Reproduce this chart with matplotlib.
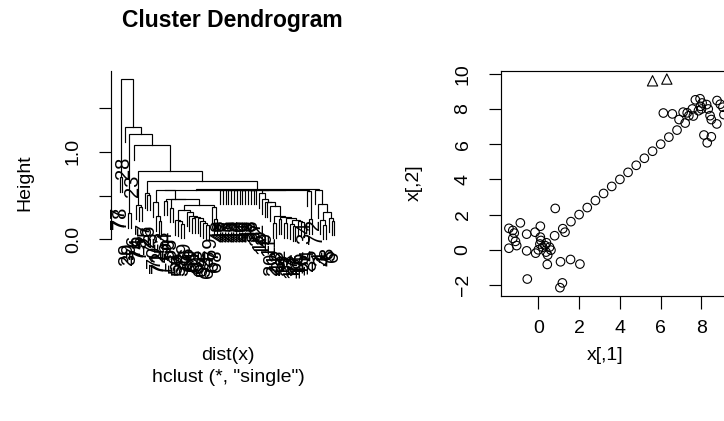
import numpy as np
import matplotlib
matplotlib.use("Agg")
import matplotlib.pyplot as plt
from matplotlib.transforms import offset_copy

plt.rcParams['font.family'] = ['Liberation Sans', 'DejaVu Sans']

# ---------------- data ----------------
low_x = [-1.44, -0.88, -1.25, -1.18, -1.25, -1.12, -1.44, -1.06, -0.57, -0.57,
         -0.16, 0.10, -0.13, 0.10, 0.13, 0.08, 0.21, 0.33, 0.55, 0.38,
         0.46, 0.44, 0.83, 1.31, 1.09, 1.58, 2.04, -0.54, 1.18, 1.06, 0.62]
low_y = [1.22, 1.53, 1.10, 0.95, 0.65, 0.48, 0.09, 0.24, 0.89, -0.06,
         1.00, 1.34, -0.19, 0.72, 0.53, 0.33, 0.15, 0.24, 0.15, -0.13,
         -0.30, -0.83, 2.35, 1.00, -0.68, -0.55, -0.81, -1.66, -1.88, -2.15, -0.02]
chain_x = [0.0, 0.4, 0.8, 1.2, 1.6, 2.0, 2.4, 2.8, 3.2, 3.6, 4.0, 4.4, 4.8,
           5.2, 5.6, 6.0, 6.4, 6.8, 7.2, 7.6, 8.0]
chain_y = [0.0, 0.4, 0.8, 1.2, 1.6, 2.0, 2.4, 2.8, 3.2, 3.6, 4.0, 4.4, 4.8,
           5.2, 5.6, 6.0, 6.4, 6.8, 7.2, 7.6, 8.0]
up_x = [6.13, 6.57, 6.90, 7.10, 7.30, 7.38, 7.55, 7.70, 7.93, 8.03, 7.95, 7.85,
        8.25, 8.33, 8.42, 8.48, 8.75, 8.76, 8.92, 9.05, 9.10, 8.12, 8.48, 8.28]
up_y = [7.77, 7.72, 7.40, 7.82, 7.78, 7.62, 8.00, 8.52, 8.58, 8.34, 8.15, 7.90,
        8.25, 8.00, 7.62, 7.40, 7.15, 8.48, 8.27, 8.10, 7.68, 6.52, 6.42, 6.08]
tri_x = [5.6, 6.3]
tri_y = [9.6, 9.7]

px = np.array(low_x + chain_x + up_x + tri_x)
py = np.array(low_y + chain_y + up_y + tri_y)
labels = [str(i + 1) for i in range(len(px))]


# ---------------- single-linkage clustering (R hclust conventions) ----------------
def hclust_single(xs, ys):
    P = np.column_stack([xs, ys])
    n = len(P)
    D = np.sqrt(((P[:, None, :] - P[None, :, :]) ** 2).sum(-1))
    np.fill_diagonal(D, np.inf)
    rid = {i: -(i + 1) for i in range(n)}
    alive = list(range(n))
    merges, heights = [], []
    for step in range(n - 1):
        sub = D[np.ix_(alive, alive)]
        k = int(np.argmin(sub))
        a, b = alive[k // len(alive)], alive[k % len(alive)]
        h = D[a, b]
        ia, ib = rid[a], rid[b]
        if ia < 0 and ib < 0:
            pair = (max(ia, ib), min(ia, ib))
        else:
            pair = (min(ia, ib), max(ia, ib))
        merges.append(pair)
        heights.append(h)
        D[a, :] = np.minimum(D[a, :], D[b, :])
        D[:, a] = D[a, :]
        D[a, a] = np.inf
        alive.remove(b)
        rid[a] = step + 1
    return merges, np.array(heights)


merges, heights = hclust_single(px, py)
n = len(px)


def leaf_order(node):
    out = []
    for c in merges[node - 1]:
        if c < 0:
            out.append(-c - 1)
        else:
            out.extend(leaf_order(c))
    return out


order = leaf_order(n - 1)
pos = {leaf: i + 1 for i, leaf in enumerate(order)}

# ---------------- figure ----------------
W, H = 724, 421
fig = plt.figure(figsize=(W / 100, H / 100), dpi=100)


def fx(p):
    return p / W


def fy(p):
    return 1 - p / H


lw = 0.85
txt = 14

# ---- left panel: dendrogram ----
L, R, T, B = 111, 343, 71, 296
ax1 = fig.add_axes([fx(L), fy(B), fx(R - L), (B - T) / H])
hmax = heights.max()
ytop = hmax * 1.05
ybot = -0.354 * hmax
ax1.set_ylim(ybot, ytop)
ax1.set_xlim(1 - 0.04 * (n - 1), n + 0.04 * (n - 1))
hang = 0.1 * (heights.max() - heights.min())
lab_tr = offset_copy(ax1.transData, fig=fig, x=4, y=-15, units='dots')


def draw(node):
    y = heights[node - 1]
    anchors = []
    for c in merges[node - 1]:
        if c < 0:
            leaf = -c - 1
            xc = pos[leaf]
            yc = y - hang
            ax1.text(xc, yc, labels[leaf], transform=lab_tr, rotation=90,
                     rotation_mode='anchor', ha='right', va='baseline',
                     fontsize=14.5, clip_on=False)
        else:
            xc, yc = draw(c)
        anchors.append((xc, yc))
    (xl, yl), (xr, yr) = anchors
    ax1.plot([xl, xl, xr, xr], [yl, y, y, yr], color='black', lw=lw,
             solid_joinstyle='miter', clip_on=False)
    return (xl + xr) / 2, y


draw(n - 1)
for s in ['top', 'right', 'bottom']:
    ax1.spines[s].set_visible(False)
ax1.spines['left'].set_bounds(0, ytop)
ax1.spines['left'].set_linewidth(lw)
ax1.set_xticks([])
ax1.set_yticks([0, 0.5, 1.0, 1.5])
ax1.set_yticklabels(['0.0', '', '1.0', ''])
ax1.tick_params(axis='y', length=9, width=lw, pad=12, labelsize=txt)
for t in ax1.get_yticklabels():
    t.set_rotation(90)
    t.set_va('center')
ax1.patch.set_visible(False)

fig.text(fx(232), fy(21), 'Cluster Dendrogram', ha='center', va='center',
         fontsize=16.5, fontweight='bold')
fig.text(fx(25), fy(183), 'Height', ha='center', va='center', rotation=90, fontsize=txt)
fig.text(fx(228), fy(355), 'dist(x)', ha='center', va='center', fontsize=txt)
fig.text(fx(228), fy(377), 'hclust (*, "single")', ha='center', va='center', fontsize=txt)

# ---- right panel: scatter ----
L2, T2, B2 = 500.7, 70.7, 296
x0px, xppu = 538.3, 20.4
xlo = (L2 - x0px) / xppu
xhi = 11.0
R2 = x0px + xhi * xppu
ax2 = fig.add_axes([fx(L2), fy(B2), fx(R2 - L2), (B2 - T2) / H])
ax2.scatter(px[:-2], py[:-2], s=38, facecolors='none', edgecolors='black',
            linewidths=0.8, clip_on=True)
ax2.scatter(tri_x, tri_y, s=55, marker='^', facecolors='none', edgecolors='black',
            linewidths=0.8)
yr = max(py) - min(py)
ax2.set_ylim(min(py) - 0.04 * yr, max(py) + 0.04 * yr)
ax2.set_xlim(xlo, xhi)
ax2.set_xticks([0, 2, 4, 6, 8])
ax2.set_yticks([-2, 0, 2, 4, 6, 8, 10])
ax2.tick_params(axis='x', length=9, width=lw, pad=8, labelsize=txt)
ax2.tick_params(axis='y', length=9, width=lw, pad=12, labelsize=txt)
for t in ax2.get_yticklabels():
    t.set_rotation(90)
    t.set_va('center')
for s in ax2.spines.values():
    s.set_linewidth(lw)
fig.text(fx(414), fy(183), 'x[,2]', ha='center', va='center', rotation=90, fontsize=txt)
fig.text(fx(605), fy(355), 'x[,1]', ha='center', va='center', fontsize=txt)

fig.savefig('out.png', dpi=100)
